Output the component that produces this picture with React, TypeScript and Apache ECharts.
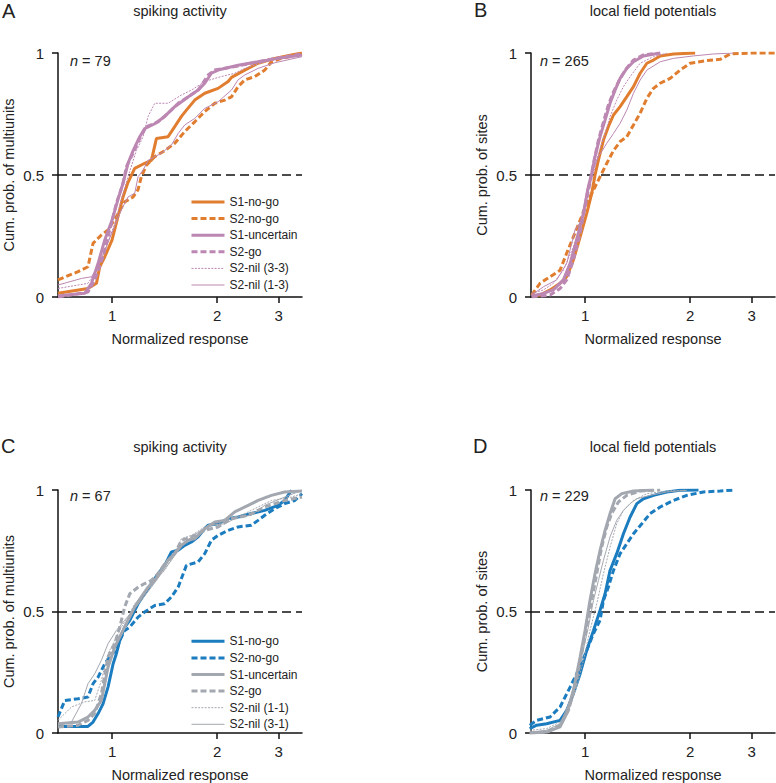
import React, { useEffect, useRef } from 'react';
import * as echarts from 'echarts';

// ---------- axis ranges / ticks ----------
const X_MIN = 0.7;
const X_MAX = 3.5;
const X_TICKS = [1, 2, 3];
const Y_MIN = 0;
const Y_MAX = 1;
const Y_STEP = 0.5;
const REF_LEVEL = 0.5;

// ---------- labels ----------
const LABELS_TOP = ['S1-no-go', 'S2-no-go', 'S1-uncertain', 'S2-go', 'S2-nil (3-3)', 'S2-nil (1-3)'];
const LABELS_BOTTOM = ['S1-no-go', 'S2-no-go', 'S1-uncertain', 'S2-go', 'S2-nil (1-1)', 'S2-nil (3-1)'];
const TITLES = ['spiking activity', 'local field potentials', 'spiking activity', 'local field potentials'];
const LETTERS = ['A', 'B', 'C', 'D'];
const N_COUNTS = [79, 265, 67, 229];
const Y_NAMES = ['Cum. prob. of multiunits', 'Cum. prob. of sites', 'Cum. prob. of multiunits', 'Cum. prob. of sites'];
const X_NAME = 'Normalized response';

// ---------- Panel A (spiking, orange / mauve) ----------
const A_S1_NOGO = [[0.70, 0.015], [0.853, 0.035], [0.902, 0.056], [0.922, 0.124], [0.953, 0.165], [1.0, 0.234], [1.040, 0.33], [1.075, 0.41], [1.111, 0.47], [1.161, 0.527], [1.240, 0.548], [1.296, 0.56], [1.340, 0.65], [1.447, 0.657], [1.512, 0.698], [1.580, 0.74], [1.633, 0.766], [1.725, 0.807], [1.843, 0.835], [2.012, 0.855], [2.150, 0.883], [2.198, 0.90], [2.400, 0.93], [2.620, 0.958], [2.925, 0.978], [3.265, 0.992], [3.5, 1.0]];
const A_S2_NOGO = [[0.70, 0.07], [0.799, 0.104], [0.853, 0.124], [0.882, 0.22], [0.932, 0.254], [0.974, 0.275], [1.029, 0.33], [1.087, 0.39], [1.149, 0.41], [1.187, 0.44], [1.213, 0.493], [1.254, 0.54], [1.325, 0.575], [1.415, 0.60], [1.512, 0.63], [1.615, 0.678], [1.725, 0.718], [1.843, 0.76], [1.969, 0.794], [2.103, 0.807], [2.198, 0.82], [2.296, 0.862], [2.400, 0.89], [2.564, 0.903], [2.738, 0.93], [2.861, 0.964], [3.056, 0.978], [3.5, 0.996]];
const A_S1_UNC = [[0.70, 0.004], [0.835, 0.015], [0.873, 0.056], [0.912, 0.138], [0.953, 0.234], [1.0, 0.315], [1.040, 0.40], [1.075, 0.466], [1.111, 0.548], [1.149, 0.60], [1.200, 0.657], [1.240, 0.69], [1.325, 0.71], [1.415, 0.74], [1.512, 0.78], [1.651, 0.82], [1.764, 0.848], [1.843, 0.876], [1.925, 0.917], [2.012, 0.93], [2.296, 0.95], [2.620, 0.964], [2.989, 0.978], [3.5, 0.992]];
const A_S2_GO = [[0.70, 0.0], [0.853, 0.02], [0.892, 0.07], [0.942, 0.165], [0.985, 0.275], [1.029, 0.385], [1.075, 0.466], [1.099, 0.534], [1.149, 0.589], [1.200, 0.65], [1.254, 0.698], [1.355, 0.718], [1.447, 0.753], [1.546, 0.794], [1.651, 0.82], [1.764, 0.848], [1.884, 0.91], [1.969, 0.93], [2.296, 0.947], [2.620, 0.964], [2.989, 0.98], [3.5, 0.996]];
const A_NIL_33 = [[0.70, 0.035], [0.853, 0.056], [0.902, 0.11], [0.953, 0.19], [1.018, 0.30], [1.063, 0.40], [1.111, 0.493], [1.174, 0.60], [1.227, 0.657], [1.268, 0.74], [1.325, 0.794], [1.447, 0.794], [1.580, 0.828], [1.688, 0.848], [1.843, 0.883], [2.012, 0.90], [2.246, 0.917], [2.400, 0.937], [2.738, 0.964], [3.123, 0.985], [3.5, 0.992]];
const A_NIL_13 = [[0.70, 0.049], [0.817, 0.076], [0.873, 0.083], [0.912, 0.124], [0.953, 0.19], [1.007, 0.275], [1.063, 0.357], [1.111, 0.41], [1.161, 0.425], [1.187, 0.493], [1.227, 0.52], [1.268, 0.56], [1.325, 0.575], [1.384, 0.589], [1.479, 0.623], [1.546, 0.67], [1.615, 0.705], [1.725, 0.732], [1.843, 0.773], [2.012, 0.80], [2.198, 0.848], [2.296, 0.89], [2.400, 0.91], [2.620, 0.937], [2.925, 0.96], [3.5, 0.985]];

// ---------- Panel B (LFP, orange / mauve) ----------
const B_S1_NOGO = [[0.703, 0.004], [0.743, 0.008], [0.794, 0.029], [0.848, 0.056], [0.886, 0.083], [0.926, 0.152], [0.968, 0.247], [1.011, 0.343], [1.045, 0.425], [1.068, 0.5], [1.092, 0.561], [1.129, 0.643], [1.166, 0.698], [1.206, 0.746], [1.260, 0.78], [1.317, 0.821], [1.376, 0.862], [1.438, 0.917], [1.503, 0.958], [1.570, 0.971], [1.641, 0.988], [1.792, 0.996], [2.067, 1.0]];
const B_S2_NOGO = [[0.703, 0.008], [0.743, 0.056], [0.794, 0.083], [0.848, 0.11], [0.886, 0.18], [0.926, 0.247], [0.968, 0.315], [1.011, 0.384], [1.057, 0.438], [1.104, 0.493], [1.154, 0.548], [1.206, 0.60], [1.260, 0.637], [1.317, 0.657], [1.376, 0.705], [1.438, 0.753], [1.503, 0.814], [1.570, 0.855], [1.641, 0.876], [1.753, 0.896], [1.872, 0.93], [2.0, 0.958], [2.233, 0.969], [2.438, 0.974], [2.604, 0.996], [3.039, 1.0], [3.5, 1.0]];
const B_S1_UNC = [[0.703, 0.004], [0.760, 0.015], [0.811, 0.029], [0.867, 0.07], [0.906, 0.138], [0.946, 0.234], [0.989, 0.343], [1.022, 0.452], [1.045, 0.508], [1.068, 0.575], [1.104, 0.657], [1.141, 0.725], [1.179, 0.794], [1.219, 0.848], [1.260, 0.896], [1.317, 0.937], [1.376, 0.964], [1.470, 0.988], [1.641, 1.0]];
const B_S2_GO = [[0.703, 0.0], [0.794, 0.008], [0.848, 0.035], [0.886, 0.07], [0.926, 0.152], [0.968, 0.261], [1.0, 0.37], [1.033, 0.466], [1.057, 0.548], [1.092, 0.643], [1.129, 0.718], [1.166, 0.787], [1.206, 0.841], [1.246, 0.882], [1.302, 0.93], [1.376, 0.971], [1.470, 0.992], [1.641, 1.0]];
const B_NIL_33 = [[0.703, 0.015], [0.760, 0.029], [0.811, 0.056], [0.867, 0.11], [0.926, 0.206], [0.968, 0.30], [1.011, 0.41], [1.057, 0.508], [1.092, 0.589], [1.141, 0.67], [1.179, 0.739], [1.232, 0.807], [1.288, 0.862], [1.346, 0.903], [1.438, 0.958], [1.570, 0.985], [1.714, 0.999]];
const B_NIL_13 = [[0.703, 0.008], [0.760, 0.042], [0.829, 0.07], [0.886, 0.138], [0.936, 0.275], [0.978, 0.315], [1.011, 0.438], [1.045, 0.508], [1.092, 0.575], [1.154, 0.63], [1.206, 0.67], [1.260, 0.712], [1.317, 0.766], [1.376, 0.835], [1.438, 0.889], [1.503, 0.93], [1.641, 0.964], [1.792, 0.978], [2.044, 0.988], [2.333, 0.996], [2.662, 1.0]];

// ---------- Panel C (spiking, blue / gray) ----------
const C_S1_NOGO = [[0.70, 0.027], [0.853, 0.027], [0.882, 0.045], [0.912, 0.08], [0.942, 0.12], [0.974, 0.19], [1.007, 0.285], [1.029, 0.327], [1.052, 0.381], [1.087, 0.436], [1.124, 0.464], [1.149, 0.491], [1.187, 0.532], [1.240, 0.573], [1.296, 0.615], [1.355, 0.656], [1.415, 0.69], [1.479, 0.745], [1.546, 0.752], [1.615, 0.772], [1.688, 0.786], [1.764, 0.807], [1.843, 0.841], [1.884, 0.855], [2.012, 0.861], [2.150, 0.882], [2.296, 0.889], [2.507, 0.903], [2.738, 0.916], [2.989, 0.937], [3.123, 0.957], [3.265, 0.999]];
const C_S2_NOGO = [[0.70, 0.066], [0.732, 0.134], [0.799, 0.141], [0.853, 0.148], [0.882, 0.203], [0.912, 0.23], [0.953, 0.285], [1.0, 0.327], [1.029, 0.34], [1.052, 0.381], [1.087, 0.422], [1.124, 0.436], [1.187, 0.477], [1.240, 0.498], [1.325, 0.525], [1.415, 0.532], [1.479, 0.56], [1.546, 0.60], [1.633, 0.69], [1.764, 0.704], [1.843, 0.738], [1.925, 0.793], [2.012, 0.813], [2.150, 0.834], [2.296, 0.848], [2.507, 0.855], [2.620, 0.875], [2.738, 0.896], [2.925, 0.923], [3.123, 0.944], [3.337, 0.957], [3.5, 0.985]];
const C_S1_UNC = [[0.70, 0.038], [0.799, 0.045], [0.853, 0.066], [0.892, 0.093], [0.932, 0.134], [0.974, 0.272], [1.018, 0.354], [1.063, 0.409], [1.111, 0.464], [1.161, 0.519], [1.213, 0.56], [1.268, 0.60], [1.325, 0.628], [1.384, 0.669], [1.447, 0.711], [1.512, 0.738], [1.580, 0.772], [1.651, 0.793], [1.725, 0.80], [1.843, 0.841], [1.969, 0.868], [2.103, 0.875], [2.246, 0.91], [2.454, 0.937], [2.620, 0.957], [2.861, 0.978], [3.123, 0.992], [3.5, 0.996]];
const C_S2_GO = [[0.70, 0.025], [0.799, 0.032], [0.853, 0.052], [0.892, 0.08], [0.932, 0.162], [0.974, 0.313], [1.018, 0.368], [1.052, 0.436], [1.087, 0.519], [1.124, 0.573], [1.187, 0.60], [1.240, 0.615], [1.296, 0.628], [1.355, 0.656], [1.415, 0.697], [1.512, 0.738], [1.580, 0.793], [1.688, 0.807], [1.843, 0.834], [2.012, 0.848], [2.198, 0.882], [2.454, 0.896], [2.738, 0.93], [3.123, 0.957], [3.5, 0.971]];
const C_NIL_11 = [[0.70, 0.052], [0.765, 0.107], [0.835, 0.128], [0.892, 0.134], [0.932, 0.217], [0.974, 0.327], [1.018, 0.381], [1.063, 0.436], [1.111, 0.477], [1.161, 0.532], [1.240, 0.573], [1.325, 0.628], [1.415, 0.669], [1.512, 0.738], [1.580, 0.80], [1.688, 0.813], [1.843, 0.848], [2.012, 0.861], [2.198, 0.882], [2.400, 0.903], [2.620, 0.93], [2.861, 0.957], [3.265, 0.971], [3.5, 0.985]];
const C_NIL_31 = [[0.70, 0.032], [0.765, 0.045], [0.817, 0.121], [0.853, 0.203], [0.892, 0.244], [0.932, 0.299], [0.974, 0.368], [1.029, 0.422], [1.087, 0.464], [1.149, 0.505], [1.213, 0.546], [1.296, 0.60], [1.384, 0.656], [1.479, 0.711], [1.580, 0.772], [1.688, 0.807], [1.803, 0.834], [1.925, 0.855], [2.103, 0.861], [2.296, 0.889], [2.507, 0.896], [2.738, 0.937], [3.123, 0.971], [3.5, 0.999]];

// ---------- Panel D (LFP, blue / gray) ----------
const D_S1_NOGO = [[0.694, 0.018], [0.727, 0.032], [0.776, 0.038], [0.848, 0.052], [0.886, 0.093], [0.926, 0.162], [0.968, 0.244], [1.011, 0.34], [1.057, 0.422], [1.104, 0.505], [1.141, 0.573], [1.179, 0.669], [1.232, 0.738], [1.288, 0.82], [1.346, 0.889], [1.407, 0.944], [1.470, 0.964], [1.570, 0.978], [1.714, 0.992], [1.872, 0.999], [2.113, 1.0]];
const D_S2_NOGO = [[0.694, 0.032], [0.727, 0.052], [0.794, 0.066], [0.848, 0.107], [0.906, 0.189], [0.968, 0.272], [1.011, 0.34], [1.057, 0.409], [1.104, 0.464], [1.129, 0.546], [1.166, 0.60], [1.206, 0.669], [1.260, 0.738], [1.317, 0.779], [1.376, 0.82], [1.454, 0.861], [1.536, 0.903], [1.641, 0.93], [1.792, 0.957], [1.956, 0.978], [2.184, 0.992], [2.438, 0.996], [2.692, 1.0]];
const D_S1_UNC = [[0.694, 0.0], [0.776, 0.004], [0.848, 0.025], [0.886, 0.08], [0.926, 0.176], [0.968, 0.313], [1.0, 0.422], [1.033, 0.546], [1.068, 0.656], [1.104, 0.752], [1.141, 0.834], [1.179, 0.903], [1.219, 0.964], [1.274, 0.985], [1.376, 0.996], [1.570, 1.0]];
const D_S2_GO = [[0.694, 0.0], [0.776, 0.004], [0.848, 0.032], [0.896, 0.093], [0.936, 0.189], [0.978, 0.327], [1.011, 0.436], [1.045, 0.546], [1.080, 0.656], [1.116, 0.765], [1.154, 0.848], [1.192, 0.903], [1.246, 0.951], [1.317, 0.978], [1.438, 0.996], [1.641, 1.0]];
const D_NIL_11 = [[0.694, 0.011], [0.776, 0.018], [0.848, 0.045], [0.906, 0.107], [0.946, 0.189], [0.989, 0.299], [1.033, 0.422], [1.080, 0.532], [1.129, 0.656], [1.179, 0.765], [1.232, 0.861], [1.288, 0.916], [1.376, 0.957], [1.503, 0.985], [1.714, 0.996], [1.956, 1.0]];
const D_NIL_31 = [[0.694, 0.004], [0.776, 0.011], [0.848, 0.038], [0.906, 0.134], [0.946, 0.244], [0.978, 0.313], [1.022, 0.436], [1.057, 0.546], [1.092, 0.628], [1.129, 0.711], [1.179, 0.807], [1.232, 0.875], [1.288, 0.916], [1.346, 0.944], [1.407, 0.964], [1.536, 0.978], [1.714, 0.992], [1.956, 0.999]];

// ---------- styles ----------
const ORANGE = '#E07D2F';
const MAUVE = '#BC87B2';
const BLUE = '#1B7CBF';
const GRAY = '#A3A7AF';
const TEXT = '#222222';
const AXIS = '#111111';
const FONT = "'Liberation Sans', Arial, Helvetica, sans-serif";

const KINDS = ['thick', 'dash', 'thick', 'dash', 'dot', 'thin'];

const PANELS = [
  { curves: [A_S1_NOGO, A_S2_NOGO, A_S1_UNC, A_S2_GO, A_NIL_33, A_NIL_13], labels: LABELS_TOP, colors: [ORANGE, ORANGE, MAUVE, MAUVE, MAUVE, MAUVE] },
  { curves: [B_S1_NOGO, B_S2_NOGO, B_S1_UNC, B_S2_GO, B_NIL_33, B_NIL_13], labels: LABELS_TOP, colors: [ORANGE, ORANGE, MAUVE, MAUVE, MAUVE, MAUVE] },
  { curves: [C_S1_NOGO, C_S2_NOGO, C_S1_UNC, C_S2_GO, C_NIL_11, C_NIL_31], labels: LABELS_BOTTOM, colors: [BLUE, BLUE, GRAY, GRAY, GRAY, GRAY] },
  { curves: [D_S1_NOGO, D_S2_NOGO, D_S1_UNC, D_S2_GO, D_NIL_11, D_NIL_31], labels: LABELS_BOTTOM, colors: [BLUE, BLUE, GRAY, GRAY, GRAY, GRAY] },
];

const GRID_BOXES = [
  { left: 58, top: 53, width: 244, height: 244 },
  { left: 531, top: 53, width: 244, height: 244 },
  { left: 58, top: 490, width: 244, height: 243 },
  { left: 531, top: 490, width: 244, height: 243 },
];

function lineStyleFor(kind: string, color: string) {
  if (kind === 'thick') return { color, width: 3, type: 'solid' as any };
  if (kind === 'dash') return { color, width: 3, type: [6, 3] as any };
  if (kind === 'dot') return { color, width: 1, type: [2, 1.3] as any };
  return { color, width: 1, type: 'solid' as any };
}

function buildOption() {
  const series: any[] = [];
  PANELS.forEach((p, gi) => {
    p.curves.forEach((curve, ci) => {
      const s: any = {
        type: 'line',
        name: `${LETTERS[gi]}|${p.labels[ci]}`,
        xAxisIndex: gi,
        yAxisIndex: gi,
        data: curve.map(([x, y]) => [Math.log10(x), y]),
        symbol: 'none',
        showSymbol: false,
        silent: true,
        clip: true,
        itemStyle: { color: p.colors[ci] },
        lineStyle: lineStyleFor(KINDS[ci], p.colors[ci]),
        z: 3,
      };
      if (ci === 0) {
        s.markLine = {
          silent: true,
          symbol: 'none',
          label: { show: false },
          lineStyle: { color: AXIS, width: 1.5, type: [9, 5] },
          data: [{ yAxis: REF_LEVEL }],
          z: 2,
        };
      }
      series.push(s);
    });
  });

  const xTickPos = X_TICKS.map((v) => Math.log10(v));

  const grid = GRID_BOXES.map((g) => ({ ...g, containLabel: false, outerBoundsMode: 'none' }));

  const xAxis = GRID_BOXES.map((_, gi) => ({
    gridIndex: gi,
    type: 'value',
    min: Math.log10(X_MIN),
    max: Math.log10(X_MAX),
    name: X_NAME,
    nameLocation: 'middle',
    nameGap: 34,
    nameTextStyle: { fontSize: 14.5, color: TEXT, fontFamily: FONT },
    axisLine: { show: true, onZero: false, lineStyle: { color: AXIS, width: 1.5 } },
    axisTick: { show: true, inside: false, length: 6, lineStyle: { color: AXIS, width: 1.5 }, customValues: xTickPos },
    axisLabel: {
      show: true,
      margin: 11,
      fontSize: 15,
      color: TEXT,
      fontFamily: FONT,
      customValues: xTickPos,
      formatter: (v: number) => String(Math.round(Math.pow(10, v))),
    },
    splitLine: { show: false },
  }));

  const yAxis = GRID_BOXES.map((_, gi) => ({
    gridIndex: gi,
    type: 'value',
    min: Y_MIN,
    max: Y_MAX,
    interval: Y_STEP,
    name: Y_NAMES[gi],
    nameLocation: 'middle',
    nameGap: 42,
    nameTextStyle: { fontSize: 14.5, color: TEXT, fontFamily: FONT },
    axisLine: { show: true, onZero: false, lineStyle: { color: AXIS, width: 1.5 } },
    axisTick: { show: true, inside: false, length: 6, lineStyle: { color: AXIS, width: 1.5 } },
    axisLabel: { show: true, margin: 14, fontSize: 15, color: TEXT, fontFamily: FONT, formatter: (v: number) => String(v) },
    splitLine: { show: false },
  }));

  const legendBase = {
    orient: 'vertical',
    left: 190,
    itemWidth: 33,
    itemHeight: 12,
    itemGap: 4.6,
    padding: 0,
    selectedMode: false,
    textStyle: { fontSize: 12, color: TEXT, fontFamily: FONT },
    itemStyle: { opacity: 0, borderWidth: 0 },
    lineStyle: { width: 'inherit', type: 'inherit', opacity: 1 },
    formatter: (n: string) => n.split('|')[1],
  };
  const legend = [
    { ...legendBase, top: 196, data: LABELS_TOP.map((l) => `A|${l}`) },
    { ...legendBase, top: 635.3, data: LABELS_BOTTOM.map((l) => `C|${l}`) },
  ];

  const letterPos = [[2, 11], [474, 10], [1, 445.5], [473, 445.5]];
  const titlePos = [[180, 11], [653, 11], [180, 447], [653, 447]];
  const nPos = [[70, 61], [540, 61], [70, 496], [540, 496]];

  const graphic: any[] = [];
  GRID_BOXES.forEach((_, gi) => {
    graphic.push({
      type: 'text',
      x: letterPos[gi][0],
      y: letterPos[gi][1],
      silent: true,
      style: { text: LETTERS[gi], fill: TEXT, font: `20px ${FONT}`, align: 'left', verticalAlign: 'middle' },
    });
    graphic.push({
      type: 'text',
      x: titlePos[gi][0],
      y: titlePos[gi][1],
      silent: true,
      style: { text: TITLES[gi], fill: TEXT, font: `14.5px ${FONT}`, align: 'center', verticalAlign: 'middle' },
    });
    graphic.push({
      type: 'text',
      x: nPos[gi][0],
      y: nPos[gi][1],
      silent: true,
      style: {
        text: `{i|n} = ${N_COUNTS[gi]}`,
        fill: TEXT,
        font: `14.5px ${FONT}`,
        align: 'left',
        verticalAlign: 'middle',
        rich: { i: { fontStyle: 'italic', fontSize: 14.5, fontFamily: FONT, fill: TEXT } },
      },
    });
  });

  return {
    animation: false,
    backgroundColor: '#ffffff',
    textStyle: { fontFamily: FONT },
    grid,
    xAxis,
    yAxis,
    legend,
    series,
    graphic,
  };
}

export default function App() {
  const ref = useRef<HTMLDivElement>(null);
  useEffect(() => {
    if (!ref.current) return;
    const chart = echarts.init(ref.current, null, { renderer: 'svg' });
    chart.setOption(buildOption() as any);
    return () => {
      chart.dispose();
    };
  }, []);
  return (
    <div
      ref={ref}
      style={{ position: 'absolute', left: 0, top: 0, width: 776, height: 783, background: '#fff' }}
    />
  );
}
